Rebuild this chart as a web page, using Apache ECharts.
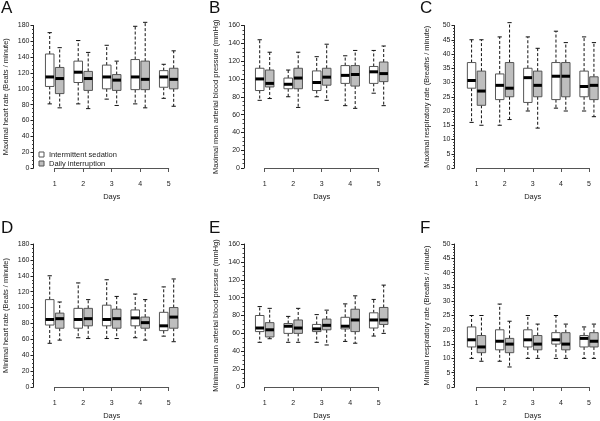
<!DOCTYPE html>
<html><head><meta charset="utf-8">
<script src="https://cdn.jsdelivr.net/npm/echarts@6/dist/echarts.min.js"></script>
<style>html,body{margin:0;padding:0;background:#fff}#c{width:600px;height:421px}</style>
</head><body><div id="c"></div>
<script>
// ---- data: each entry per day = [min, Q1, median, Q3, max]
const days = [1, 2, 3, 4, 5];
const dayLabels = ['1', '2', '3', '4', '5'];
const groupNames = ['Intermittent sedation', 'Daily interruption'];
const panelLetters = ['A', 'B', 'C', 'D', 'E', 'F'];
const yNames = [
  'Maximal heart rate (Beats / minute)',
  'Maximal mean arterial blood pressure (mmHg)',
  'Maximal respiratory rate (Breaths / minute)',
  'Minimal heart rate (Beats / minute)',
  'Minimal mean arterial blood pressure (mmHg)',
  'Minimal respiratory rate (Breaths / minute)'
];
const yMaxes = [180, 160, 50, 180, 160, 50];
const yIntervals = [20, 20, 5, 20, 20, 5];

const maxHR_IS = [[81,103,115,144,171],[81,108,121,135,161],[87,100,115,130,155],[81,99,115,137,179],[88,102,115,123,131]];
const maxHR_DI = [[76,94,113,127,152],[75,98,113,122,146],[79,98,111,118,135],[76,99,112,135,184],[78,100,112,126,148]];
const maxMAP_IS = [[76,87,100,112,144],[80,89,94,101,110],[80,87,96,109,125],[70,95,104,115,126],[84,95,108,114,132]];
const maxMAP_DI = [[78,91,95,110,130],[68,89,101,112,130],[76,93,102,112,139],[67,92,105,115,132],[70,97,106,119,137]];
const maxRR_IS = [[16,28,30.7,37,45],[15,24,29,33,46],[20,23,31.7,35,46],[21,24,32.2,37,48],[20,25,28.6,34,46]];
const maxRR_DI = [[15,22,27,34,45],[17,25,28,37,51],[14,25,29,34,42],[20,25,32.2,37,44],[18,24,29,32,44]];
const minHR_IS = [[55,78,85,110,140],[62,74,85,99,131],[61,77,85,103,135],[62,77,87,97,117],[64,71,77,94,126]];
const minHR_DI = [[59,74,86,93,107],[61,77,86,99,110],[61,74,86,98,114],[59,74,81,88,110],[57,74,88,100,136]];
const minMAP_IS = [[50,62,66,80,90],[50,60,68,71,79],[50,62,65,70,81],[51,65,68,78,93],[57,66,75,83,98]];
const minMAP_DI = [[54,56,64,72,88],[50,60,66,75,88],[47,64,69,76,86],[49,62,75,87,102],[60,70,75,89,114]];
const minRR_IS = [[10,14,16.5,21,25],[9,13,16,20,29],[10,14,16.5,20,25],[10,15,16.5,19,25],[10,14,17,18,21]];
const minRR_DI = [[9,12,14,18,25],[7,12,15,17,23],[10,13,15,18,22],[10,13,15,19,22],[10,14,16,19,22]];

const panelData = [
  [maxHR_IS, maxHR_DI], [maxMAP_IS, maxMAP_DI], [maxRR_IS, maxRR_DI],
  [minHR_IS, minHR_DI], [minMAP_IS, minMAP_DI], [minRR_IS, minRR_DI]
];

// ---- layout
const FONT = 'Liberation Sans, Arial, sans-serif';
const gridLefts = [54.7, 264.7, 476.5];
const gridWidths = [114, 114, 112.5];
const yAxisX = [33.5, 244, 454.5];
const rowTops = [25.5, 244];
const rowHeights = [142.5, 143];
const letterLefts = [1, 209, 420];
const letterTops = [0, 219.5];
const minorSplits = [4, 4, 5, 4, 4, 5];
const groupOffsets = [-0.175, 0.175];
const groupFills = ['#ffffff', '#bebebe'];
const BOX_HALF = 0.15;

function makeRender(offset, fill) {
  return function (params, api) {
    const d = api.value(0) + offset;
    const pMin = api.coord([d, api.value(1)]);
    const pQ1 = api.coord([d, api.value(2)]);
    const pMd = api.coord([d, api.value(3)]);
    const pQ3 = api.coord([d, api.value(4)]);
    const pMax = api.coord([d, api.value(5)]);
    const hw = api.size([BOX_HALF, 0])[0];
    const cw = hw / 2;
    const cx = pMd[0];
    const dash = { stroke: '#111', lineWidth: 1, lineDash: [3, 2] };
    const solid = { stroke: '#111', lineWidth: 1 };
    return {
      type: 'group',
      children: [
        { type: 'line', shape: { x1: cx, y1: pQ3[1], x2: cx, y2: pMax[1] }, style: dash },
        { type: 'line', shape: { x1: cx, y1: pQ1[1], x2: cx, y2: pMin[1] }, style: dash },
        { type: 'line', shape: { x1: cx - cw, y1: pMax[1], x2: cx + cw, y2: pMax[1] }, style: solid },
        { type: 'line', shape: { x1: cx - cw, y1: pMin[1], x2: cx + cw, y2: pMin[1] }, style: solid },
        { type: 'rect', shape: { x: cx - hw, y: pQ3[1], width: 2 * hw, height: pQ1[1] - pQ3[1] },
          style: { fill: fill, stroke: '#555', lineWidth: 1 } },
        { type: 'line', shape: { x1: cx - hw, y1: pMd[1], x2: cx + hw, y2: pMd[1] },
          style: { stroke: '#000', lineWidth: 3 } }
      ]
    };
  };
}

const grids = [], xAxes = [], yAxes = [], series = [], titles = [];
for (let p = 0; p < 6; p++) {
  const col = p % 3, row = Math.floor(p / 3);
  grids.push({ left: gridLefts[col], width: gridWidths[col], top: rowTops[row], height: rowHeights[row] });
  xAxes.push({
    gridIndex: p, type: 'value', min: 1, max: 5, interval: 1, position: 'bottom', offset: 5,
    axisLine: { show: true, lineStyle: { color: '#555', width: 1 } },
    axisTick: { show: true, length: 4, lineStyle: { color: '#555' } },
    axisLabel: { fontSize: 7, margin: 8, color: '#222', fontFamily: FONT, formatter: v => dayLabels[days.indexOf(v)] },
    splitLine: { show: false },
    name: 'Days', nameLocation: 'middle', nameGap: 20,
    nameTextStyle: { fontSize: 7.5, color: '#222', fontFamily: FONT }
  });
  yAxes.push({
    gridIndex: p, type: 'value', min: 0, max: yMaxes[p], interval: yIntervals[p], position: 'left',
    offset: gridLefts[col] - yAxisX[col],
    axisLine: { show: true, lineStyle: { color: '#222', width: 1 } },
    axisTick: { show: true, length: 3, lineStyle: { color: '#222' } },
    minorTick: { show: true, splitNumber: minorSplits[p], length: 1.5, lineStyle: { color: '#444' } },
    axisLabel: { fontSize: 7, margin: 4, color: '#222', fontFamily: FONT },
    splitLine: { show: false }, minorSplitLine: { show: false },
    name: yNames[p], nameLocation: 'middle', nameGap: 24,
    nameTextStyle: { fontSize: 7.5, color: '#222', fontFamily: FONT }
  });
  for (let g = 0; g < 2; g++) {
    series.push({
      type: 'custom', name: groupNames[g], xAxisIndex: p, yAxisIndex: p,
      itemStyle: { color: groupFills[g], borderColor: '#555' },
      renderItem: makeRender(groupOffsets[g], groupFills[g]),
      encode: { x: 0, y: [1, 2, 3, 4, 5] },
      clip: false, silent: true,
      data: days.map((d, i) => [d].concat(panelData[p][g][i]))
    });
  }
  titles.push({
    text: panelLetters[p], left: letterLefts[col], top: letterTops[row], padding: 0,
    textStyle: { fontSize: 17, fontWeight: 'normal', color: '#111', fontFamily: FONT }
  });
}

const chart = echarts.init(document.getElementById('c'), null, { renderer: 'canvas' });
chart.setOption({
  animation: false,
  backgroundColor: '#fff',
  title: titles,
  legend: {
    orient: 'vertical', left: 38.5, top: 150.5, padding: 0, itemGap: 1,
    itemWidth: 5, itemHeight: 5, icon: 'rect', selectedMode: false,
    textStyle: { fontSize: 7.5, color: '#222', fontFamily: FONT, lineHeight: 8 },
    data: [
      { name: groupNames[0], itemStyle: { color: '#ffffff', borderColor: '#555', borderWidth: 1 } },
      { name: groupNames[1], itemStyle: { color: '#bebebe', borderColor: '#555', borderWidth: 1 } }
    ]
  },
  grid: grids, xAxis: xAxes, yAxis: yAxes, series: series
});
</script></body></html>
